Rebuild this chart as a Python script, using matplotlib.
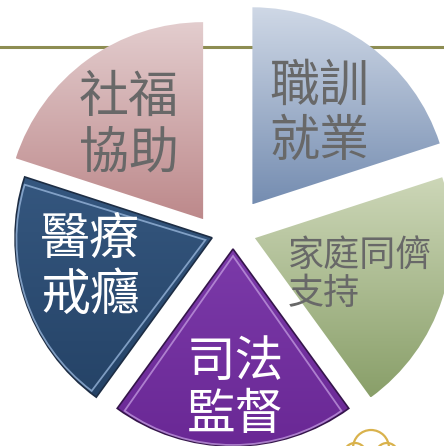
import numpy as np
import matplotlib.pyplot as plt
from matplotlib.patches import Wedge, Arc
from matplotlib.colors import to_rgb

plt.rcParams['font.family'] = ['Noto Sans CJK TC', 'DejaVu Sans']

# five equal segments, counter-clockwise from 12 o'clock
labels = ['社福\n協助', '醫療\n戒癮', '司法\n監督', '家庭同儕\n支持', '職訓\n就業']
shares = [1, 1, 1, 1, 1]

# styling per segment
explode = [27, 22, 18, 23, 33]
shift = [(-14, -10), (0, 0), (0, 0), (0, 0), (0, 0)]
top_col = ['#e3cdce', '#35577f', '#7b3aa9', '#cdd7b8', '#cfd8e6']
bot_col = ['#bd898b', '#254367', '#6a2895', '#899f69', '#758db1']
edge_col = ['none', '#1d2d44', '#35154b', 'none', 'none']
glow_col = [None, '#9dbbe0', '#c39be0', None, None]
txt_col = ['#686868', 'white', 'white', '#686868', '#686868']
txt_xy = [(129, 320), (90, 178), (235, 57), (288, 171), (319, 332)]
txt_size = [36, 36, 35, 26, 36]
txt_ha = ['center', 'center', 'center', 'left', 'center']

W, H = 444, 446
fig = plt.figure(figsize=(W / 100, H / 100), dpi=100)
ax = fig.add_axes([0, 0, 1, 1])

# olive rule behind the pie
ax.axhline(H - 47, color='#8d8d52', lw=2.2, zorder=0.5)

wedges, _ = ax.pie(shares, startangle=90, counterclock=True, radius=197,
                   center=(233, 215), explode=explode, frame=False,
                   wedgeprops=dict(linewidth=1.2))

for i, w in enumerate(wedges):
    cx, cy = w.center
    w.set_center((cx + shift[i][0], cy + shift[i][1]))
    w.set_facecolor('none')
    w.set_edgecolor(edge_col[i])
    w.set_zorder(1.5)
    # vertical gradient fill clipped to the segment
    ext = w.get_path().get_extents()
    grad = np.linspace(0, 1, 256)[:, None, None]
    c0, c1 = np.array(to_rgb(bot_col[i])), np.array(to_rgb(top_col[i]))
    img = c0 + (c1 - c0) * grad
    im = ax.imshow(img, extent=(ext.x0, ext.x1, ext.y0, ext.y1),
                   origin='lower', aspect='auto', zorder=1,
                   interpolation='bilinear')
    im.set_clip_path(w)
    if glow_col[i]:
        mid = np.deg2rad((w.theta1 + w.theta2) / 2)
        gx, gy = w.center[0] + 7 * np.cos(mid), w.center[1] + 7 * np.sin(mid)
        ax.add_patch(Wedge((gx, gy), w.r - 8, w.theta1 + 1, w.theta2 - 1,
                           fill=False, edgecolor=glow_col[i], lw=1.3,
                           alpha=0.75, zorder=1.6))
    ax.text(*txt_xy[i], labels[i], ha=txt_ha[i], va='center',
            multialignment='left', fontsize=txt_size[i], color=txt_col[i],
            linespacing=1.08, zorder=3)

# small gold ornament in the corner
for (ox, oy, rr) in [(371, -2, 18), (355, -8, 11), (387, -8, 11)]:
    ax.add_patch(Arc((ox, oy), 2 * rr, 2 * rr, theta1=0, theta2=180,
                     color='#d9b24c', lw=1.6, zorder=1))

ax.set_xlim(0, W)
ax.set_ylim(0, H)
ax.set_aspect('equal')
ax.axis('off')
fig.savefig('out.png', dpi=100, facecolor='white')
